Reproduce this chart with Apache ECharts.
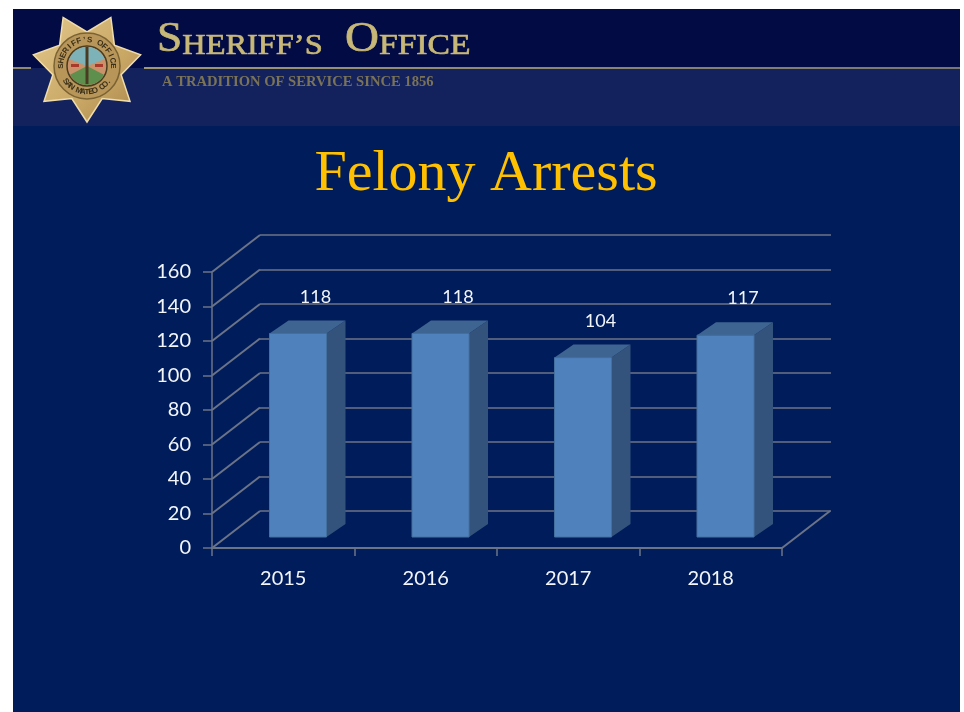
<!DOCTYPE html>
<html>
<head>
<meta charset="utf-8">
<title>Felony Arrests</title>
<script src="https://cdn.jsdelivr.net/npm/echarts@6/dist/echarts.min.js"></script>
<style>
  html, body { margin: 0; padding: 0; background: #fff; }
  #chart { width: 964px; height: 712px; }
</style>
</head>
<body>
<div id="chart"></div>
<script>
const years = ['2015', '2016', '2017', '2018']
const arrests = [118, 118, 104, 117]
const yTicks = [0, 20, 40, 60, 80, 100, 120, 140, 160]

const lineColor = '#6b7387'
const labelColor = '#f2f6fb'
const labelFont = 'Lato'
const headerGold = '#c8b878'

// 3d look: depth of the chart box and of each bar, in px
const wallDx = 48
const wallDy = -37
const barDx = 19
const barDy = -13

// seven pointed badge outline
function starPoints (cx, cy, outer, inner) {
  const pts = []
  for (let i = 0; i < 14; i++) {
    const r = i % 2 === 0 ? outer : inner
    const a = Math.PI / 2 + i * Math.PI / 7
    pts.push([cx + r * Math.cos(a), cy + r * Math.sin(a)])
  }
  return pts
}

// lettering round the badge ring, one text per letter
function ringText (str, cx, cy, r, spread, bottom) {
  const chars = str.split('')
  return chars.map(function (ch, i) {
    const a = -spread / 2 + spread * i / (chars.length - 1)
    return {
      type: 'text',
      z: 6,
      x: cx + r * Math.sin(a),
      y: bottom ? cy + r * Math.cos(a) : cy - r * Math.cos(a),
      rotation: bottom ? a : -a,
      style: {
        text: ch,
        font: 'bold 8px "Liberation Sans"',
        fill: '#3a2f18',
        align: 'center',
        verticalAlign: 'middle'
      }
    }
  })
}

// small caps: big first letter, smaller rest, slightly heavier than the plain face
const smallCaps = {
  a: { font: '42px "Liberation Serif"', fill: headerGold, stroke: headerGold, lineWidth: 0.7, verticalAlign: 'bottom', lineHeight: 42 },
  b: { font: '30px "Liberation Serif"', fill: headerGold, stroke: headerGold, lineWidth: 0.7, verticalAlign: 'bottom', lineHeight: 42 }
}

const badgeX = 87
const badgeY = 66

const myChart = echarts.init(document.getElementById('chart'))

const option = {
  backgroundColor: '#ffffff',
  animation: false,
  graphic: [
    // slide background
    { type: 'rect', z: -10, shape: { x: 13, y: 9, width: 947, height: 703 }, style: { fill: '#001c5a' } },
    { type: 'rect', z: -9, shape: { x: 13, y: 9, width: 947, height: 59 }, style: { fill: '#020b44' } },
    { type: 'rect', z: -9, shape: { x: 13, y: 68, width: 947, height: 58 }, style: { fill: '#13225d' } },
    // header rule, broken by the badge
    { type: 'rect', z: -8, shape: { x: 13, y: 67, width: 18, height: 2 }, style: { fill: '#8f8a6e' } },
    {
      type: 'rect',
      z: -8,
      shape: { x: 144, y: 67, width: 816, height: 2 },
      style: {
        fill: new echarts.graphic.LinearGradient(0, 0, 1, 0, [
          { offset: 0, color: '#a09770' },
          { offset: 1, color: '#77776f' }
        ])
      }
    },
    // badge
    {
      type: 'polygon',
      z: 1,
      shape: { points: starPoints(badgeX, badgeY + 1, 55, 35) },
      style: {
        fill: new echarts.graphic.LinearGradient(0, 0, 1, 1, [
          { offset: 0, color: '#e2c88c' },
          { offset: 0.6, color: '#c9a765' },
          { offset: 1, color: '#a8854a' }
        ]),
        stroke: '#efdcab',
        lineWidth: 1.5
      }
    },
    { type: 'circle', z: 2, shape: { cx: badgeX, cy: badgeY, r: 33 }, style: { fill: '#b8965a', stroke: '#7a6232', lineWidth: 1.5 } },
    { type: 'circle', z: 3, shape: { cx: badgeX, cy: badgeY, r: 20 }, style: { fill: '#c9926a', stroke: '#4a3c20', lineWidth: 1.5 } },
    {
      type: 'sector',
      z: 4,
      shape: { cx: badgeX, cy: badgeY, r: 19, startAngle: Math.PI * 1.12, endAngle: Math.PI * 1.88 },
      style: { fill: '#7db3b8' }
    },
    {
      type: 'sector',
      z: 4,
      shape: { cx: badgeX, cy: badgeY, r: 19, startAngle: Math.PI * 0.15, endAngle: Math.PI * 0.85 },
      style: { fill: '#5f8f4c' }
    },
    { type: 'rect', z: 5, shape: { x: 85.5, y: 47, width: 3, height: 37 }, style: { fill: '#4b3a22' } },
    { type: 'rect', z: 5, shape: { x: 71, y: 64, width: 8, height: 3 }, style: { fill: '#a83a2c' } },
    { type: 'rect', z: 5, shape: { x: 95, y: 64, width: 8, height: 3 }, style: { fill: '#a83a2c' } }
  ].concat(
    ringText('SHERIFF\u2019S OFFICE', badgeX, badgeY, 26, Math.PI, false),
    ringText('SAN MATEO CO.', badgeX, badgeY, 26, Math.PI * 0.6, true)
  ).concat([
    // header text
    {
      type: 'text',
      z: 5,
      x: 157,
      y: 19,
      scaleX: 1.08,
      style: { text: '{a|S}{b|HERIFF\u2019S}', rich: smallCaps }
    },
    {
      type: 'text',
      z: 5,
      x: 345,
      y: 19,
      scaleX: 1.12,
      style: { text: '{a|O}{b|FFICE}', rich: smallCaps }
    },
    {
      type: 'text',
      z: 5,
      x: 162,
      y: 82,
      style: {
        text: 'A TRADITION OF SERVICE SINCE 1856',
        font: 'bold 14.6px "Liberation Serif"',
        fill: '#7a7358',
        verticalAlign: 'middle'
      }
    },
    // slide title
    {
      type: 'text',
      z: 5,
      x: 486,
      y: 175,
      style: {
        text: 'Felony Arrests',
        font: '58px "Liberation Serif"',
        fill: '#ffc000',
        align: 'center',
        verticalAlign: 'middle'
      }
    }
  ]),
  grid: [
    { left: 212, top: 272, width: 570, height: 276 },
    // back wall of the box, same scale shifted by the depth
    { left: 212 + wallDx, top: 272 + wallDy, width: 571, height: 276 }
  ],
  xAxis: [
    {
      type: 'category',
      data: years,
      axisLine: { lineStyle: { color: lineColor, width: 2 } },
      axisTick: { show: true, length: 8, lineStyle: { color: lineColor, width: 1.5 } },
      axisLabel: { color: labelColor, fontFamily: labelFont, fontSize: 20, margin: 21 },
      splitLine: { show: false }
    },
    { type: 'category', gridIndex: 1, data: years, show: false }
  ],
  yAxis: [
    {
      type: 'value',
      min: 0,
      max: 160,
      interval: 20,
      axisLine: { show: true, lineStyle: { color: lineColor, width: 1.5 } },
      axisTick: { show: true, length: 9, lineStyle: { color: lineColor, width: 1.5 } },
      axisLabel: { color: labelColor, fontFamily: labelFont, fontSize: 20, margin: 21, padding: [3, 0, 0, 0] },
      splitLine: { show: false }
    },
    {
      type: 'value',
      gridIndex: 1,
      min: 0,
      max: 160,
      interval: 20,
      axisLine: { show: false },
      axisTick: { show: false },
      axisLabel: { show: false },
      splitLine: { show: true, lineStyle: { color: lineColor, width: 1.5 } }
    }
  ],
  series: [
    {
      // slanted lines on the left wall, plus the floor edge on the right
      type: 'custom',
      silent: true,
      z: 1,
      data: yTicks,
      encode: { y: 0 },
      renderItem: function (params, api) {
        const p = api.coord([0, api.value(0)])
        const x0 = params.coordSys.x
        const y = p[1]
        const style = { stroke: lineColor, lineWidth: 2, fill: null }
        const children = [{
          type: 'line',
          shape: { x1: x0, y1: y, x2: x0 + wallDx, y2: y + wallDy },
          style: style
        }]
        if (api.value(0) === 0) {
          const xr = x0 + params.coordSys.width
          children.push({
            type: 'line',
            shape: { x1: xr, y1: y, x2: xr + wallDx, y2: y + wallDy },
            style: style
          })
        }
        return { type: 'group', children: children }
      }
    },
    {
      type: 'custom',
      z: 5,
      data: arrests.map(function (v, i) { return [i, v] }),
      encode: { x: 0, y: 1 },
      renderItem: function (params, api) {
        const top = api.coord([api.value(0), api.value(1)])
        const bottom = api.coord([api.value(0), 0])
        const band = api.size([1, 0])[0]
        const w = band * 0.4
        // front face sits a little inside the box
        const xl = top[0] + band * 0.1 - w / 2 + 0.5
        const xr = xl + w
        const yt = top[1] - 11
        const yb = bottom[1] - 11
        return {
          type: 'group',
          children: [
            {
              type: 'polygon',
              shape: { points: [[xr, yt], [xr + barDx, yt + barDy], [xr + barDx, yb + barDy], [xr, yb]] },
              style: { fill: '#34537c' }
            },
            {
              type: 'polygon',
              shape: { points: [[xl, yt], [xl + barDx, yt + barDy], [xr + barDx, yt + barDy], [xr, yt]] },
              style: { fill: '#3e6491' }
            },
            {
              type: 'rect',
              shape: { x: xl, y: yt, width: w, height: yb - yt },
              style: { fill: '#4f81bd', stroke: '#44709f', lineWidth: 1 }
            },
            {
              type: 'text',
              x: xl + 46,
              y: yt - 36.5,
              style: {
                text: String(api.value(1)),
                font: '18px ' + labelFont,
                fill: labelColor,
                align: 'center',
                verticalAlign: 'middle'
              }
            }
          ]
        }
      }
    }
  ]
}

myChart.setOption(option)
window.addEventListener('resize', function () {
  myChart.resize()
})
</script>
</body>
</html>
